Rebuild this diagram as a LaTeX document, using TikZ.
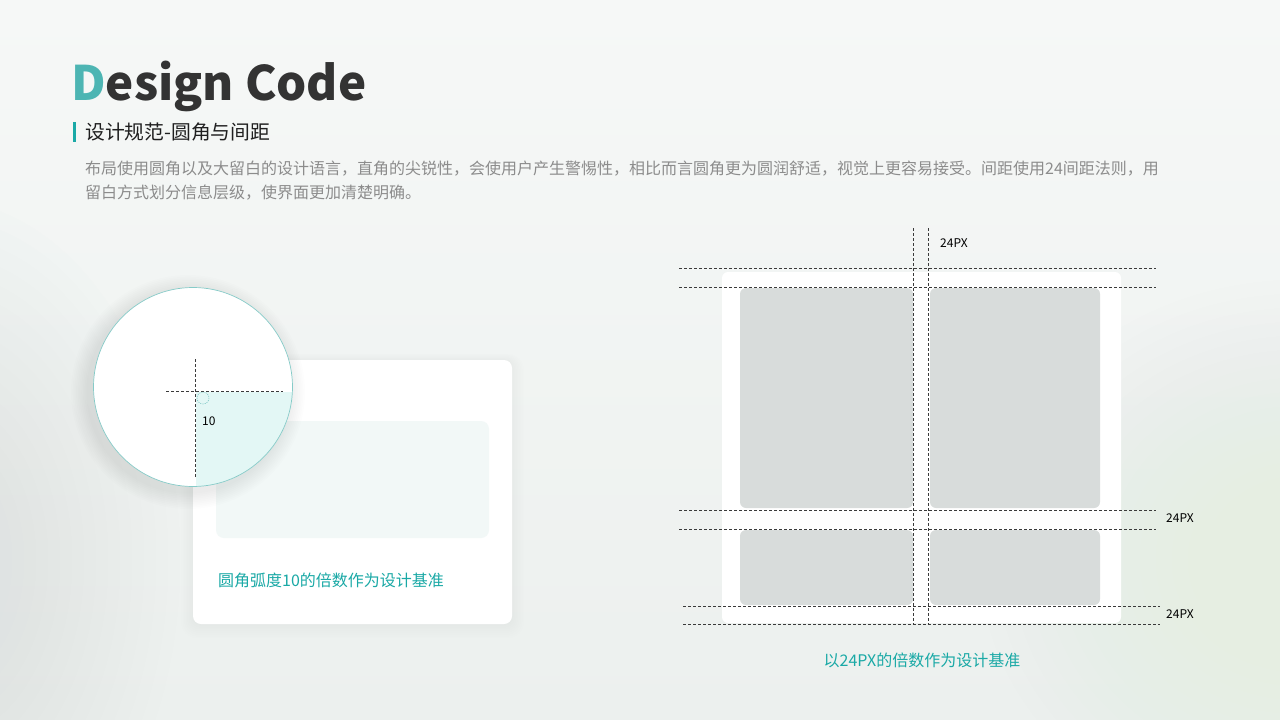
\documentclass[tikz,border=0pt]{standalone}
\usepackage{fontspec}
\setmainfont{Noto Sans CJK SC}
\definecolor{teal}{HTML}{1AA9A6}
\definecolor{tealD}{HTML}{4DB5B3}
\definecolor{dark}{HTML}{333333}
\definecolor{bodygray}{HTML}{8C8C8C}
\definecolor{boxgray}{HTML}{D8DCDB}
\definecolor{lightbox}{HTML}{F2F8F7}
\definecolor{quarter}{HTML}{E3F7F5}
\definecolor{dashc}{HTML}{3A3A3A}
\definecolor{ring}{HTML}{86CBC8}
\definecolor{bgtop}{HTML}{F6F8F7}
\definecolor{bgbot}{HTML}{ECF0EE}
\definecolor{bluegray}{HTML}{D9E3E3}
\definecolor{greentint}{HTML}{E6EEE2}
\tikzset{
  guide/.style={draw=dashc, line width=1pt, dash pattern=on 3pt off 2pt},
  lbl/.style={inner sep=0pt, anchor=base west, font=\fontsize{12}{14}\selectfont, text=black},
  caption/.style={inner sep=0pt, font=\fontsize{16}{19}\selectfont, text=teal},
  bodytxt/.style={inner sep=0pt, anchor=base west, font=\fontsize{16}{19}\selectfont, text=bodygray},
  graybox/.style={fill=boxgray, rounded corners=6pt},
}
\begin{document}
\begin{tikzpicture}[x=1pt,y=-1pt]
\useasboundingbox (0,0) rectangle (1280,720);
% background
\shade[top color=bgtop, bottom color=bgbot] (0,0) rectangle (1280,720);
\begin{scope}
\clip (0,0) rectangle (1280,720);
\foreach \i in {1,...,20}{
  \fill[bluegray, opacity=0.045] (-60,560) ellipse ({12*\i} and {18*\i});
}
\foreach \i in {1,...,20}{
  \fill[greentint, opacity=0.04] (1300,560) ellipse ({16*\i} and {14*\i});
}
\foreach \i in {1,...,20}{
  \fill[white, opacity=0.035] (620,60) ellipse ({30*\i} and {12*\i});
}
\end{scope}
% title
\node[inner sep=0pt, anchor=base west, font=\fontsize{47.5}{56}\selectfont\bfseries] (title) at (71,100) {\textcolor{tealD}{D}\textcolor{dark}{esign Code}};
\fill[teal] (73,122) rectangle (76,142);
\node[inner sep=0pt, anchor=base west, font=\fontsize{19.8}{24}\selectfont, text=black!88] (sub) at (85,139.5) {设计规范-圆角与间距};
\node[bodytxt] (body1) at (85,174) {布局使用圆角以及大留白的设计语言，直角的尖锐性，会使用户产生警惕性，相比而言圆角更为圆润舒适，视觉上更容易接受。间距使用24间距法则，用};
\node[bodytxt] (body2) at (85,198) {留白方式划分信息层级，使界面更加清楚明确。};

% ---------- left: card ----------
\foreach \i in {1,...,8}{
  \fill[black, opacity=0.005, rounded corners={8+\i}] (193-\i*1.5,360-\i*0.8) rectangle (512+\i*1.5,624+\i*1.8);
}
\fill[white, rounded corners=8pt] (193,360) rectangle (512,624);
\fill[lightbox, rounded corners=8pt] (216,421) rectangle (489,538);
\node[caption, anchor=base west] (cap1) at (218,586) {圆角弧度10的倍数作为设计基准};

% ---------- left: magnifier circle ----------
\foreach \i in {1,...,10}{
  \fill[black, opacity=0.006] (188,392) circle ({100+\i*1.7});
}
\fill[white] (193,387) circle (99.5);
\begin{scope}
  \clip (193,387) circle (99.5);
  \fill[quarter] (195.5,391.5) rectangle (300,500);
\end{scope}
\draw[ring, line width=0.7pt] (193,387) circle (99.5);
\draw[guide] (166,391.5) -- (283,391.5);
\draw[guide] (195.5,359) -- (195.5,477);
\draw[ring, line width=0.6pt, dash pattern=on 1.2pt off 1pt] (203,398) circle (6);
\node[lbl] (ten) at (202,425) {10};

% ---------- right: grid ----------
\fill[white, rounded corners=6pt] (722,272) rectangle (1121,623);
\fill[graybox] (740,288) rectangle (913,508);
\fill[graybox] (930,288) rectangle (1100,508);
\fill[graybox] (740,530) rectangle (913,605);
\fill[graybox] (930,530) rectangle (1100,605);

\coordinate (v1t) at (913.5,228); \coordinate (v1b) at (913.5,624);
\coordinate (v2t) at (928.5,228); \coordinate (v2b) at (928.5,624);
\draw[guide] (v1t) -- (v1b);
\draw[guide] (v2t) -- (v2b);
\coordinate (h1l) at (679,268.5); \coordinate (h1r) at (1156,268.5);
\coordinate (h2l) at (679,287.5); \coordinate (h2r) at (1156,287.5);
\coordinate (h3l) at (679,510.5); \coordinate (h3r) at (1156,510.5);
\coordinate (h4l) at (679,529.5); \coordinate (h4r) at (1156,529.5);
\coordinate (h5l) at (683,606.5); \coordinate (h5r) at (1160,606.5);
\coordinate (h6l) at (683,624.5); \coordinate (h6r) at (1160,624.5);
\draw[guide] (h1l) -- (h1r);
\draw[guide] (h2l) -- (h2r);
\draw[guide] (h3l) -- (h3r);
\draw[guide] (h4l) -- (h4r);
\draw[guide] (h5l) -- (h5r);
\draw[guide] (h6l) -- (h6r);
\node[lbl] (px1) at (940,247) {24PX};
\node[lbl] (px2) at (1166,522) {24PX};
\node[lbl] (px3) at (1166,618) {24PX};
\node[caption, anchor=base] (cap2) at (922,666) {以24PX的倍数作为设计基准};
\end{tikzpicture}
\end{document}
